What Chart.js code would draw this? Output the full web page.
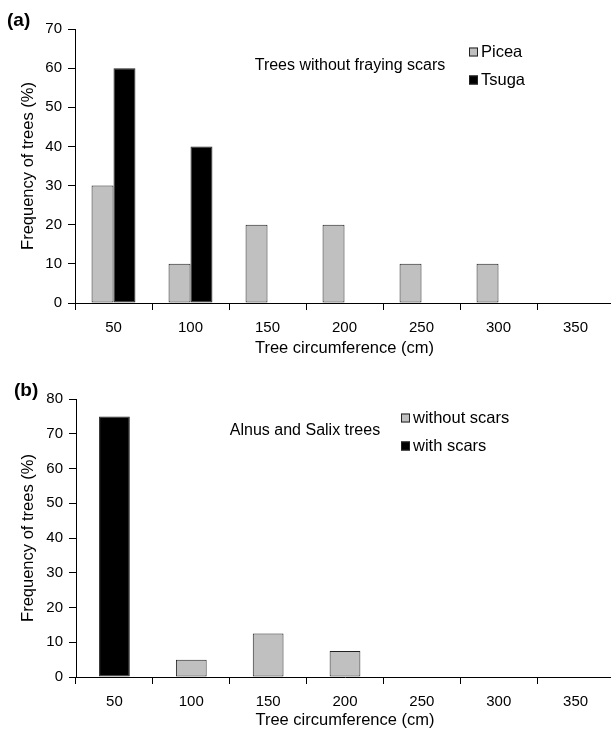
<!DOCTYPE html>
<html>
<head>
<meta charset="utf-8">
<script src="https://cdn.jsdelivr.net/npm/chart.js@4.4.1/dist/chart.umd.min.js"></script>
<style>
  html, body { margin: 0; padding: 0; background: #fff; overflow: hidden; }
  body { width: 611px; height: 729px; position: relative; }
  .panel { position: absolute; left: 0; }
  #panel-a { top: 0; width: 614px; height: 360px; }
  #panel-b { top: 360px; width: 614px; height: 372px; }
</style>
</head>
<body>
<div class="panel" id="panel-a"><canvas id="chart-a"></canvas></div>
<div class="panel" id="panel-b"><canvas id="chart-b"></canvas></div>
<script>
const circumference = ["50", "100", "150", "200", "250", "300", "350"];

// panel (a)
const piceaFreq = [30, 10, 20, 20, 10, 10, 0];
const tsugaFreq = [60, 40, 0, 0, 0, 0, 0];

// panel (b)
const withoutScars = [0, 5, 12.5, 7.5, 0, 0, 0];
const withScars = [75, 0, 0, 0, 0, 0, 0];

const FONT = "'Liberation Sans', Arial, Helvetica, sans-serif";
const GREY = "#c0c0c0";
const EDGE = "#222";

Chart.defaults.font.family = FONT;
Chart.defaults.color = "#000";
Chart.defaults.animation = false;

// text inside the plot: panel letter + annotation
const panelText = {
  id: "panelText",
  afterDraw(chart, args, opts) {
    const ctx = chart.ctx;
    ctx.save();
    ctx.fillStyle = "#000";
    ctx.textBaseline = "middle";
    ctx.font = "bold 19px " + FONT;
    ctx.textAlign = "left";
    ctx.fillText(opts.letter, opts.letterX, opts.letterY);
    ctx.font = "16px " + FONT;
    ctx.textAlign = "center";
    ctx.fillText(opts.note, opts.noteX, opts.noteY);
    ctx.restore();
  },
};

// Excel style legend box placed inside the plot area
const boxLegend = {
  id: "boxLegend",
  afterDraw(chart, args, opts) {
    const ctx = chart.ctx;
    ctx.save();
    ctx.font = "16.5px " + FONT;
    ctx.textBaseline = "middle";
    ctx.textAlign = "left";
    chart.data.datasets.forEach((ds, i) => {
      const y = opts.y + i * opts.gap;
      ctx.fillStyle = ds.backgroundColor;
      ctx.fillRect(opts.x, y - 4.5, 9, 9);
      ctx.strokeStyle = EDGE;
      ctx.lineWidth = 1;
      ctx.strokeRect(opts.x + 0.5, y - 4, 8, 8);
      ctx.fillStyle = "#000";
      ctx.fillText(ds.label, opts.x + 12, y);
    });
    ctx.restore();
  },
};

const makeOptions = (cfg) => ({
  responsive: true,
  maintainAspectRatio: false,
  layout: { padding: { top: cfg.top, left: 0, right: 0, bottom: 0 } },
  plugins: {
    legend: { display: false },
    tooltip: { enabled: false },
    panelText: cfg.text,
    boxLegend: cfg.legend,
  },
  scales: {
    x: {
      stacked: cfg.stacked,
      offset: true,
      grid: {
        display: true,
        offset: true,
        drawOnChartArea: false,
        drawTicks: true,
        tickLength: 7,
        color: "#000",
      },
      border: { display: true, color: "#000", width: 1 },
      ticks: { font: { size: 15 }, padding: 9, color: "#000" },
      title: {
        display: true,
        text: "Tree circumference (cm)",
        font: { size: 16.5 },
        padding: { top: 0, bottom: 2 },
      },
      afterFit: (scale) => {
        scale.height = cfg.xHeight;
      },
    },
    y: {
      stacked: cfg.stacked,
      min: 0,
      max: cfg.yMax,
      ticks: { stepSize: 10, font: { size: 15 }, padding: 6, color: "#000" },
      grid: {
        display: true,
        drawOnChartArea: false,
        drawTicks: true,
        tickLength: 7,
        color: "#000",
      },
      border: { display: true, color: "#000", width: 1 },
      title: {
        display: true,
        text: "Frequency of trees (%)",
        font: { size: 16.5 },
        padding: { top: 19, bottom: 0 },
      },
      afterFit: (scale) => {
        scale.width = cfg.yWidth;
      },
    },
  },
});

new Chart(document.getElementById("chart-a"), {
  type: "bar",
  data: {
    labels: circumference,
    datasets: [
      {
        label: "Picea",
        data: piceaFreq,
        backgroundColor: GREY,
        borderColor: EDGE,
        borderWidth: 1,
        borderSkipped: false,
        categoryPercentage: 0.57,
        barPercentage: 1,
      },
      {
        label: "Tsuga",
        data: tsugaFreq,
        backgroundColor: "#000",
        borderColor: EDGE,
        borderWidth: 1,
        borderSkipped: false,
        categoryPercentage: 0.57,
        barPercentage: 1,
      },
    ],
  },
  options: makeOptions({
    top: 29,
    yMax: 70,
    yWidth: 75,
    xHeight: 57,
    stacked: false,
    text: {
      letter: "(a)",
      letterX: 7,
      letterY: 21,
      note: "Trees without fraying scars",
      noteX: 350,
      noteY: 66,
    },
    legend: { x: 469, y: 52, gap: 28 },
  }),
  plugins: [panelText, boxLegend],
});

new Chart(document.getElementById("chart-b"), {
  type: "bar",
  data: {
    labels: circumference,
    datasets: [
      {
        label: "without scars",
        data: withoutScars,
        backgroundColor: GREY,
        borderColor: EDGE,
        borderWidth: 1,
        borderSkipped: false,
        categoryPercentage: 0.4,
        barPercentage: 1,
      },
      {
        label: "with scars",
        data: withScars,
        backgroundColor: "#000",
        borderColor: EDGE,
        borderWidth: 1,
        borderSkipped: false,
        categoryPercentage: 0.4,
        barPercentage: 1,
      },
    ],
  },
  options: makeOptions({
    top: 39,
    yMax: 80,
    yWidth: 76,
    xHeight: 55,
    stacked: true,
    text: {
      letter: "(b)",
      letterX: 14,
      letterY: 31,
      note: "Alnus and Salix trees",
      noteX: 305,
      noteY: 71,
    },
    legend: { x: 401, y: 58, gap: 28 },
  }),
  plugins: [panelText, boxLegend],
});
</script>
</body>
</html>
